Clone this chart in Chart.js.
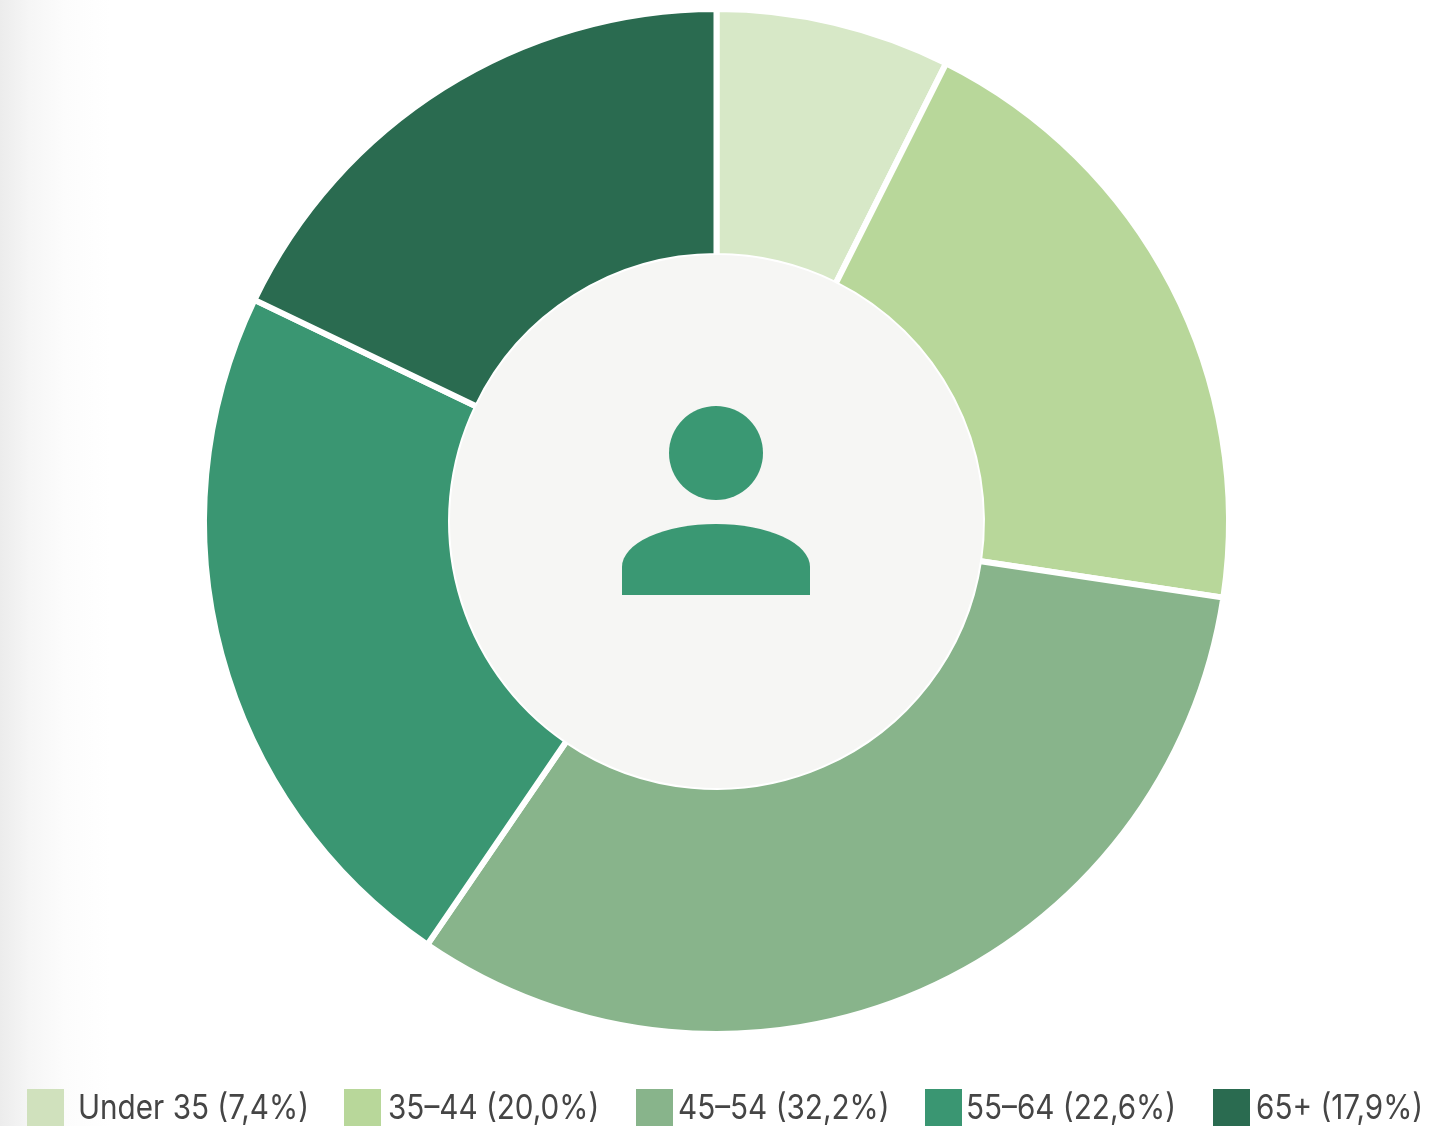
<!DOCTYPE html>
<html>
<head>
<meta charset="utf-8">
<script src="https://cdn.jsdelivr.net/npm/chart.js@4"></script>
<style>
    html, body { margin: 0; width: 1452px; height: 1126px; overflow: hidden; background: #fff; }
    #wrap {
        position: relative; width: 1452px; height: 1126px; overflow: hidden;
        background: linear-gradient(to right, #ececec 0, #f6f6f6 30px, #fcfcfc 65px, #ffffff 110px);
    }
    canvas { position: absolute; left: 0; top: 0; }
    .swatch { position: absolute; top: 1089px; width: 37px; height: 37px; }
    .label {
        position: absolute; top: 1088px; line-height: 38px; white-space: nowrap;
        font-family: Inter, sans-serif; font-size: 34px; color: #454545;
        transform: scaleX(0.873); transform-origin: left center;
    }
</style>
</head>
<body>
<div id="wrap">
    <canvas id="donut" width="1452" height="1126"></canvas>
    <div id="legend"></div>
</div>
<script>
const categories = ['Under 35', '35–44', '45–54', '55–64', '65+'];
const shares = [7.4, 20.0, 32.2, 22.6, 17.9];
const shareLabels = ['7,4%', '20,0%', '32,2%', '22,6%', '17,9%'];
const colors = ['#d7e8c7', '#b8d79a', '#88b48b', '#3a9672', '#2a6b50'];
const swatchColors = ['#d0e1bd', '#b8d79a', '#88b48b', '#3a9672', '#2a6b50'];

// legend spacing in the original is not even, so each item gets its own x
const swatchLeft = [27, 344, 636, 925, 1213];
const labelLeft = [78, 388, 678, 966, 1256];

const legend = document.getElementById('legend');
categories.forEach((name, i) => {
    const swatch = document.createElement('div');
    swatch.className = 'swatch';
    swatch.style.left = swatchLeft[i] + 'px';
    swatch.style.background = swatchColors[i];
    legend.appendChild(swatch);

    const label = document.createElement('div');
    label.className = 'label';
    label.style.left = labelLeft[i] + 'px';
    label.textContent = `${name} (${shareLabels[i]})`;
    legend.appendChild(label);
});

// Fills the hole and draws the person icon
const centerIcon = {
    id: 'centerIcon',
    afterDatasetsDraw(chart) {
        const arc = chart.getDatasetMeta(0).data[0];
        const ctx = chart.ctx;
        const x = 716, y = 521;
        ctx.save();
        ctx.fillStyle = '#f6f6f4';
        ctx.beginPath();
        ctx.arc(arc.x, arc.y, arc.innerRadius + 1, 0, Math.PI * 2);
        ctx.fill();

        ctx.fillStyle = '#3a9873';
        ctx.beginPath();
        ctx.arc(x, y - 68, 47, 0, Math.PI * 2);
        ctx.fill();

        // shoulders
        ctx.beginPath();
        ctx.moveTo(x - 94, y + 74);
        ctx.lineTo(x - 94, y + 46);
        ctx.ellipse(x, y + 46, 94, 43, 0, Math.PI, Math.PI * 2);
        ctx.lineTo(x + 94, y + 74);
        ctx.closePath();
        ctx.fill();
        ctx.restore();
    }
};

new Chart(document.getElementById('donut').getContext('2d'), {
    type: 'doughnut',
    data: {
        labels: categories,
        datasets: [{
            data: shares,
            backgroundColor: colors,
            borderColor: '#ffffff',
            borderWidth: 6
        }]
    },
    options: {
        responsive: false,
        animation: false,
        cutout: '51.8%',
        layout: { padding: { top: 6, bottom: 89, left: 201, right: 220 } },
        plugins: {
            legend: { display: false },
            tooltip: { enabled: false }
        }
    },
    plugins: [centerIcon]
});
</script>
</body>
</html>
